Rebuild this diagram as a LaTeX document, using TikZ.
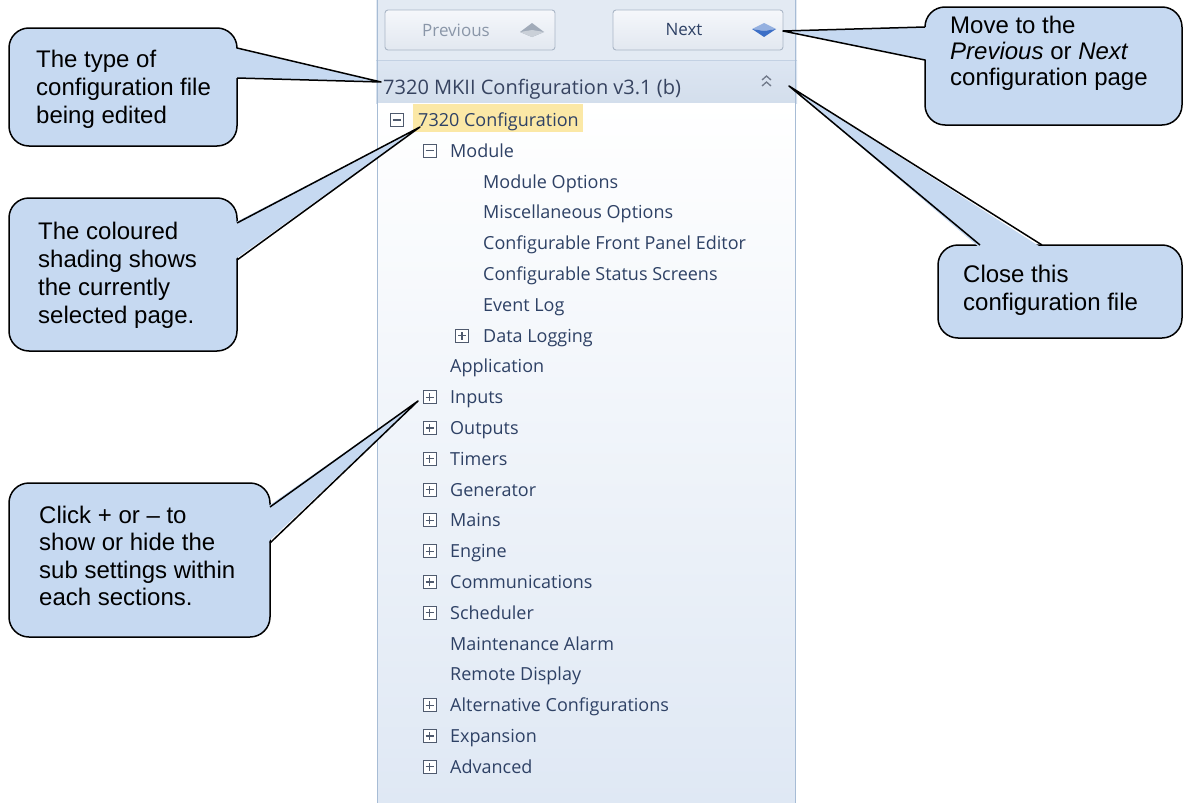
\documentclass[tikz,border=0pt]{standalone}
\usepackage{fontspec}
\setmainfont{Liberation Sans}
\newfontfamily\uifont{Open Sans}
\usetikzlibrary{calc}

\definecolor{callfill}{HTML}{C6D9F1}
\definecolor{treetext}{HTML}{2E4165}
\definecolor{hdrtext}{HTML}{364360}
\definecolor{panelborder}{HTML}{A7BCD5}
\definecolor{toolbarbg}{HTML}{E3EAF3}
\definecolor{hdrtop}{HTML}{DDE6F2}
\definecolor{hdrbot}{HTML}{D3DEEC}
\definecolor{hdrline}{HTML}{C3D1E3}
\definecolor{contentbot}{HTML}{DFE8F4}
\definecolor{btnborder}{HTML}{AAB6C6}
\definecolor{btntop}{HTML}{F5F7FB}
\definecolor{btnbot}{HTML}{E2E8F0}
\definecolor{disabledtext}{HTML}{8A96A8}
\definecolor{selfill}{HTML}{FBE8A6}
\definecolor{glyphcol}{HTML}{4F5A6E}
\definecolor{arrowblue}{HTML}{3D6FC6}

\begin{document}
\begin{tikzpicture}[x=1pt,y=-1pt,
  callbox/.style={fill=callfill, draw=black, line width=1.5pt, rounded corners=20pt, inner sep=0pt},
  tailline/.style={draw=black, line width=1.5pt, line join=round},
  calltext/.style={font=\fontsize{24}{#1}\selectfont, align=left, anchor=north west, inner sep=0pt, text=black},
  calltext/.default=28,
  treeitem/.style={font=\uifont\fontsize{18}{20}\selectfont, text=treetext, anchor=base west, inner sep=0pt},
  glyphbox/.style={draw=glyphcol, fill=white, line width=0.9pt, minimum size=13pt, inner sep=0pt},
  glyphbar/.style={draw=glyphcol, line width=1.3pt},
  btnbox/.style={draw=btnborder, line width=0.9pt, rounded corners=3pt, top color=btntop, bottom color=btnbot, minimum width=170pt, minimum height=40pt, inner sep=0pt},
  btntext/.style={font=\uifont\fontsize{17}{19}\selectfont, inner sep=0pt},
]
\useasboundingbox (0,0) rectangle (1184,803);
\fill[white] (0,0) rectangle (1184,803);

% ---------- configuration panel ----------
\fill[toolbarbg] (376,0) rectangle (797,60);
\shade[top color=hdrtop, bottom color=hdrbot] (376,60) rectangle (797,103);
\draw[hdrline, line width=1pt] (376,60) -- (797,60);
\shade[top color=white, bottom color=contentbot] (378,103) rectangle (795,803);
\draw[panelborder, line width=1.6pt] (377.5,0) -- (377.5,803);
\draw[panelborder, line width=1.6pt] (795.5,0) -- (795.5,803);

% navigation buttons
\node[btnbox] (prevbtn) at (470,30) {};
\node[btnbox] (nextbtn) at (698,30) {};
\node[btntext, text=disabledtext] (prevlbl) at (456,30) {Previous};
\node[btntext, text=treetext] (nextlbl) at (684,30) {Next};
% previous (up) and next (down) icons
\fill[disabledtext!80] (532,23) -- (544,32) -- (532,37) -- (520,32) -- cycle;
\fill[disabledtext!45] (532,30) -- (544,32) -- (532,37) -- (520,32) -- cycle;
\fill[arrowblue!55] (764,23) -- (776,29) -- (764,31) -- (752,29) -- cycle;
\fill[arrowblue] (752,29) -- (764,31) -- (776,29) -- (764,37) -- cycle;

% header with collapse chevrons
\node[font=\uifont\fontsize{20}{22}\selectfont, text=hdrtext, anchor=base west, inner sep=0pt] (hdr) at (383,94) {7320 MKII Configuration v3.1 (b)};
\draw[glyphcol!80, line width=1.3pt] (762,80) -- (766.5,76) -- (771,80);
\draw[glyphcol!80, line width=1.3pt] (762,86) -- (766.5,82) -- (771,86);

% selected page highlight
\fill[selfill] (413,104) rectangle (583,132);

% tree items
\foreach \i/\x/\t in {0/418/7320 Configuration, 1/450/Module, 2/483/Module Options,
  3/483/Miscellaneous Options, 4/483/Configurable Front Panel Editor,
  5/483/Configurable Status Screens, 6/483/Event Log, 7/483/Data Logging,
  8/450/Application, 9/450/Inputs, 10/450/Outputs, 11/450/Timers,
  12/450/Generator, 13/450/Mains, 14/450/Engine, 15/450/Communications,
  16/450/Scheduler, 17/450/Maintenance Alarm, 18/450/Remote Display,
  19/450/Alternative Configurations, 20/450/Expansion, 21/450/Advanced}
  \node[treeitem] (row\i) at (\x,{126.5+30.8*\i}) {\t};

% expand / collapse boxes
\foreach \i/\x in {0/396.5, 1/429.5}{
  \node[glyphbox] (g\i) at (\x,{120+30.8*\i}) {};
  \draw[glyphbar] ([xshift=-4pt]g\i.center) -- ([xshift=4pt]g\i.center);
}
\foreach \i/\x in {7/462, 9/429.5, 10/429.5, 11/429.5, 12/429.5, 13/429.5, 14/429.5,
  15/429.5, 16/429.5, 19/429.5, 20/429.5, 21/429.5}{
  \node[glyphbox] (g\i) at (\x,{120+30.8*\i}) {};
  \draw[glyphbar] ([xshift=-4pt]g\i.center) -- ([xshift=4pt]g\i.center);
  \draw[glyphbar] ([yshift=-4pt]g\i.center) -- ([yshift=4pt]g\i.center);
}

% points the callouts refer to
\coordinate (hdrtip) at (381,82);
\coordinate (seltip) at (420,127);
\coordinate (nexttip) at (783,31);
\coordinate (closetip) at (789,86);
\coordinate (plustip) at (418,401);

% ---------- callouts ----------
% type of file
\node[callbox, minimum width=228pt, minimum height=118pt] (c1) at (123,87) {};
\coordinate (c1a) at (237,48); \coordinate (c1b) at (237,78);
\fill[callfill] ($(c1a)+(-3,0)$) -- (hdrtip) -- ($(c1b)+(-3,0)$) -- cycle;
\draw[tailline] (c1a) -- (hdrtip) -- (c1b);
\node[calltext] (t1) at (36,49.6) {The type of\\configuration file\\being edited};

% selected page
\node[callbox, minimum width=228pt, minimum height=153pt] (c2) at (123,274.5) {};
\coordinate (c2a) at (237,223); \coordinate (c2b) at (237,260);
\fill[callfill] ($(c2a)+(-3,0)$) -- (seltip) -- ($(c2b)+(-3,0)$) -- cycle;
\draw[tailline] (c2a) -- (seltip) -- (c2b);
\node[calltext] (t2) at (38,221.6) {The coloured\\shading shows\\the currently\\selected page.};

% previous / next
\node[callbox, minimum width=257pt, minimum height=118pt] (c3) at (1053.5,66) {};
\coordinate (c3a) at (925,27); \coordinate (c3b) at (925,60);
\fill[callfill] ($(c3a)+(3,0)$) -- (nexttip) -- ($(c3b)+(3,0)$) -- cycle;
\draw[tailline] (c3a) -- (nexttip) -- (c3b);
\node[calltext=26] (t3) at (950,15.6) {Move to the\\\textit{Previous} or \textit{Next}\\configuration page};

% close file
\node[callbox, minimum width=244pt, minimum height=93pt] (c4) at (1060,291.5) {};
\coordinate (c4a) at (980,245); \coordinate (c4b) at (1042,245);
\fill[callfill] ($(c4a)+(0,3)$) -- (closetip) -- ($(c4b)+(0,3)$) -- cycle;
\draw[tailline] (c4a) -- (closetip) -- (c4b);
\node[calltext] (t4) at (963,264.6) {Close this\\configuration file};

% expand / collapse
\node[callbox, minimum width=261pt, minimum height=154pt] (c5) at (139.5,560) {};
\coordinate (c5a) at (270,507); \coordinate (c5b) at (270,543);
\fill[callfill] ($(c5a)+(-3,0)$) -- (plustip) -- ($(c5b)+(-3,0)$) -- cycle;
\draw[tailline] (c5a) -- (plustip) -- (c5b);
\node[calltext=27.5] (t5) at (39,505.6) {Click + or – to\\show or hide the\\sub settings within\\each sections.};
\end{tikzpicture}
\end{document}
